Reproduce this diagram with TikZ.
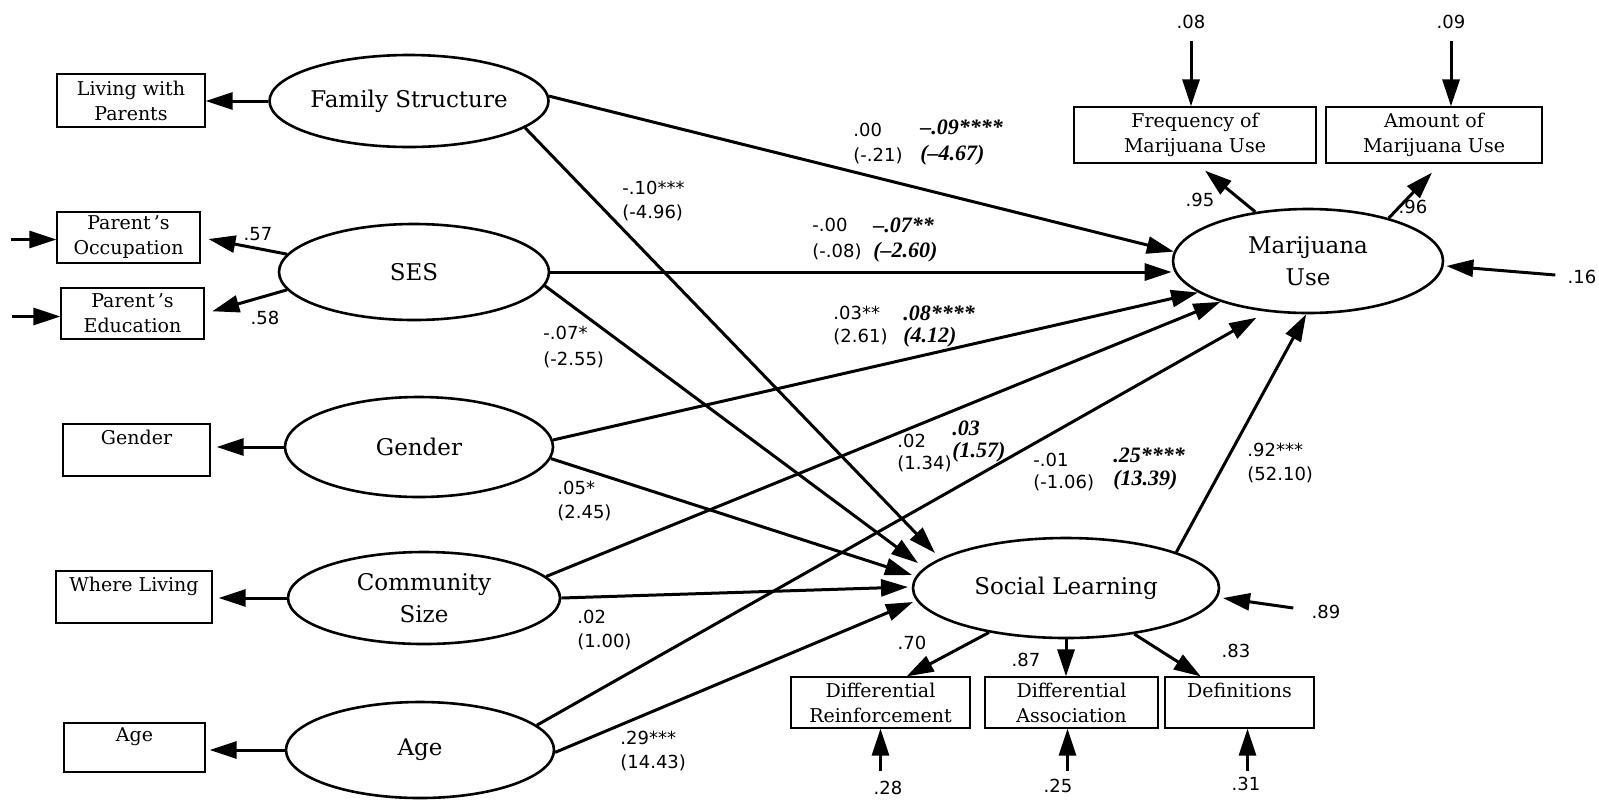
\documentclass[tikz,border=0pt]{standalone}
\usepackage{fontspec}
\setmainfont{DejaVu Serif}
\newfontfamily\numfont{DejaVu Sans}
\newfontfamily\bifont{Liberation Serif}
\usetikzlibrary{shapes.geometric,arrows.meta,calc}
\begin{document}
\begin{tikzpicture}[x=0.5pt,y=-0.5pt,
  lat/.style={ellipse,draw,line width=1.3pt,inner sep=0pt,align=center,font=\fontsize{11.5}{16}\selectfont},
  obs/.style={draw,line width=0.6pt,inner sep=1pt,align=center,font=\fontsize{9.5}{12.5}\selectfont},
  arr/.style={line width=1.5pt,-{Triangle[length=13.5pt,width=8.5pt]}},
  coef/.style={anchor=west,inner sep=0pt,font=\numfont\fontsize{9}{10}\selectfont},
  bcoef/.style={anchor=west,inner sep=0pt,font=\bifont\bfseries\itshape\fontsize{11}{12}\selectfont},
  lab/.style={inner sep=0pt,font=\numfont\fontsize{9}{10}\selectfont}]
\fill[white] (0,0) rectangle (1599,799);
\useasboundingbox (0,0) rectangle (1599,799);

% latent variables
\node[lat,minimum width=134pt,minimum height=46pt] (fs) at (409,101) {Family Structure};
\node[lat,minimum width=135pt,minimum height=48pt] (ses) at (414,272) {SES};
\node[lat,minimum width=134pt,minimum height=50pt] (gen) at (419,447) {Gender};
\node[lat,minimum width=136pt,minimum height=46pt] (comm) at (424,598) {Community\\Size};
\node[lat,minimum width=134pt,minimum height=48pt] (age) at (420,750) {Age};
\node[lat,minimum width=135pt,minimum height=52pt] (mu) at (1308,261) {Marijuana\\Use};
\node[lat,minimum width=153pt,minimum height=50pt] (sl) at (1066,588) {Social Learning};

% observed indicators
\node[obs,minimum width=74pt,minimum height=26.5pt] (lwp) at (131,100.5) {Living with\\Parents};
\node[obs,minimum width=71.5pt,minimum height=25.5pt] (po) at (128.5,237.5) {Parent\,’s\\Occupation};
\node[obs,minimum width=71.5pt,minimum height=25.5pt] (pe) at (132.5,313.5) {Parent\,’s\\Education};
\node[obs,minimum width=73.5pt,minimum height=26pt] (gbox) at (136.5,450) {Gender\\\mbox{}};
\node[obs,minimum width=78pt,minimum height=26pt] (wl) at (134,597) {Where Living\\\mbox{}};
\node[obs,minimum width=70.5pt,minimum height=24.5pt] (abox) at (134.5,747.5) {Age\\\mbox{}};
\node[obs,minimum width=121pt,minimum height=28pt] (freq) at (1195,135) {Frequency of\\Marijuana Use};
\node[obs,minimum width=108pt,minimum height=28pt] (amt) at (1434,135) {Amount of\\Marijuana Use};
\node[obs,minimum width=89.5pt,minimum height=25.5pt] (dr) at (880.5,702.5) {Differential\\Reinforcement};
\node[obs,minimum width=86.5pt,minimum height=25.5pt] (da) at (1071.5,702.5) {Differential\\Association};
\node[obs,minimum width=74.5pt,minimum height=25.5pt] (def) at (1239.5,702.5) {Definitions\\\mbox{}};

% measurement arrows (left)
\draw[arr] (fs.west) -- (fs.west -| lwp.east);
\draw[arr,shorten >=4pt] (ses.172) -- (po.east);
\draw[arr,shorten >=4pt] (ses.188) -- (pe.east);
\draw[arr,shorten >=3pt] (gen.west) -- (gen.west -| gbox.east);
\draw[arr,shorten >=3pt] (comm.west) -- (comm.west -| wl.east);
\draw[arr,shorten >=2pt] (age.west) -- (age.west -| abox.east);
\draw[arr] ($(po.west)+(-45,2)$) -- ($(po.west)+(0,2)$);
\draw[arr] ($(pe.west)+(-48,3)$) -- ($(pe.west)+(0,3)$);

% structural paths to Marijuana Use
\draw[arr] (fs.2) -- (mu.176);
\draw[arr] (ses.east) -- (ses.east -| mu.west);
\draw[arr] (gen.3) -- (mu.196);
\draw[arr] (comm.10) -- (mu.205);
\draw[arr,shorten >=6pt] (age.12) -- (mu.231);
\draw[arr] (sl.18) -- (mu.268);

% structural paths to Social Learning
\draw[arr] (fs.-13) -- ($(sl.center)+(-131,-35)$);
\draw[arr] (ses.-6) -- ($(sl.center)+(-148,-25)$);
\draw[arr] (gen.-5) -- ($(sl.center)+(-154,-13)$);
\draw[arr] (comm.east) -- ($(sl.center)+(-158,-1)$);
\draw[arr] (age.-1) -- ($(sl.center)+(-153,14)$);

% Social Learning indicators
\draw[arr] (sl.210) -- (dr.45);
\draw[arr] (sl.south) -- (sl.south |- da.north);
\draw[arr] (sl.-34) -- (def.146);

% Marijuana Use indicators
\draw[arr] (mu.137) -- ($(freq.south)+(10,7)$);
\draw[arr] (mu.28) -- ($(amt.south)+(-2,9)$);

% error terms
\node[lab] (e08) at (1191,22) {.08};
\node[lab] (e09) at (1451,22) {.09};
\draw[arr] ($(e08.south)+(0,12)$) -- (e08.south |- freq.north);
\draw[arr] ($(e09.south)+(0,12)$) -- (e09.south |- amt.north);
\node[lab] (e16) at (1582,277) {.16};
\draw[arr] ($(e16.west)+(-12,-2)$) -- ($(mu.east)+(2,5)$);
\node[lab] (e89) at (1326,612) {.89};
\draw[arr] ($(e89.west)+(-18,-4)$) -- ($(sl.center)+(157,10)$);
\node[lab] (e28) at (888,788) {.28};
\node[lab] (e25) at (1058,786) {.25};
\node[lab] (e31) at (1246,784) {.31};
\draw[arr] ($(dr.south)+(0,42)$) -- (dr.south);
\draw[arr] ($(da.south)+(-4,42)$) -- ($(da.south)+(-4,0)$);
\draw[arr] ($(def.south)+(8,42)$) -- ($(def.south)+(8,0)$);

% loadings
\node[lab] (l57) at (258,234) {.57};
\node[lab] (l58) at (265,318) {.58};
\node[lab] (l95) at (1200,200) {.95};
\node[lab] (l96) at (1413,207) {.96};
\node[lab] (l70) at (912,643) {.70};
\node[lab] (l87) at (1026,660) {.87};
\node[lab] (l83) at (1236,651) {.83};

% path coefficients
\node[coef] (c1a) at (853,130) {.00};
\node[coef] (c1b) at (853,156) {(-.21)};
\node[bcoef] (c2a) at (920,127) {–.09****};
\node[bcoef] (c2b) at (920,155) {(–4.67)};
\node[coef] (c3a) at (622,188) {-.10***};
\node[coef] (c3b) at (622,213) {(-4.96)};
\node[coef] (c4a) at (812,225) {-.00};
\node[coef] (c4b) at (812,252) {(-.08)};
\node[bcoef] (c5a) at (873,225) {–.07**};
\node[bcoef] (c5b) at (873,252) {(–2.60)};
\node[coef] (c6a) at (833,313) {.03**};
\node[coef] (c6b) at (833,337) {(2.61)};
\node[bcoef] (c7a) at (903,313) {.08****};
\node[bcoef] (c7b) at (903,337) {(4.12)};
\node[coef] (c8a) at (543,333) {-.07*};
\node[coef] (c8b) at (543,360) {(-2.55)};
\node[coef] (c9a) at (557,488) {.05*};
\node[coef] (c9b) at (557,513) {(2.45)};
\node[coef] (c10a) at (577,617) {.02};
\node[coef] (c10b) at (577,642) {(1.00)};
\node[coef] (c11a) at (620,738) {.29***};
\node[coef] (c11b) at (620,763) {(14.43)};
\node[coef] (c12a) at (897,441) {.02};
\node[coef] (c12b) at (897,464) {(1.34)};
\node[bcoef] (c13a) at (952,428) {.03};
\node[bcoef] (c13b) at (952,452) {(1.57)};
\node[coef] (c14a) at (1033,460) {-.01};
\node[coef] (c14b) at (1033,483) {(-1.06)};
\node[bcoef] (c15a) at (1113,455) {.25****};
\node[bcoef] (c15b) at (1113,480) {(13.39)};
\node[coef] (c16a) at (1247,450) {.92***};
\node[coef] (c16b) at (1247,475) {(52.10)};
\end{tikzpicture}
\end{document}
